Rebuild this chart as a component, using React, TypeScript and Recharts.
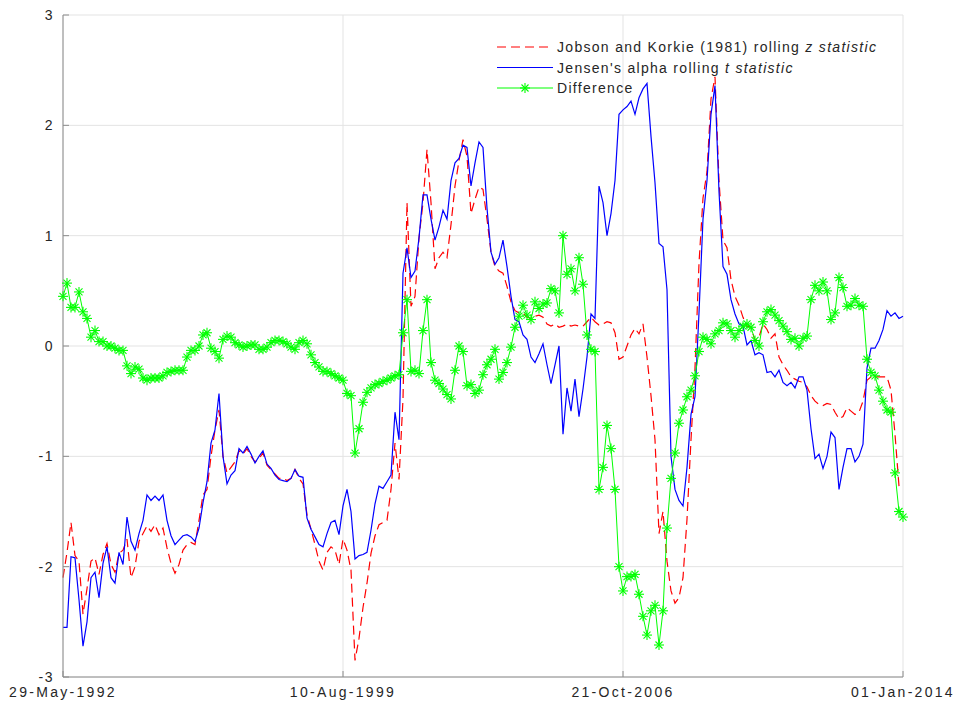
import React from 'react';
import { LineChart, Line, XAxis, YAxis, CartesianGrid, Legend } from 'recharts';

// x positions are sample indices (roughly monthly), ticks mark the four dates
const dateTicks = [0, 70, 140, 210];
const dateLabels = ['29-May-1992', '10-Aug-1999', '21-Oct-2006', '01-Jan-2014'];
const yTicks = [-3, -2, -1, 0, 1, 2, 3];

const jobsonKorkie = [
  -2.1, -1.87, -1.6, -1.9, -1.95, -2.43, -2.2, -1.95, -1.92, -2.07,
  -1.89, -1.79, -1.98, -2.05, -1.88, -1.85, -1.75, -2.1, -2.0, -1.77,
  -1.7, -1.63, -1.68, -1.62, -1.71, -1.65, -1.83, -1.97, -2.06, -1.98,
  -1.85, -1.8, -1.78, -1.8, -1.58, -1.35, -1.3, -1.0, -0.76, -0.58,
  -1.0, -1.15, -1.1, -1.05, -0.95, -0.98, -0.93, -1.0, -1.05, -1.02,
  -0.97, -1.08, -1.12, -1.16, -1.2, -1.2, -1.22, -1.2, -1.12, -1.2,
  -1.25, -1.53, -1.66, -1.8, -1.95, -2.03, -1.87, -1.82, -1.85, -1.98,
  -1.75, -1.85, -2.03, -2.85, -2.65, -2.37, -2.15, -1.88, -1.72, -1.62,
  -1.6, -1.58, -1.3, -0.88, -1.21, -0.48, 1.3, 0.36, 0.45, 0.98,
  1.3, 1.78, 1.3, 0.7, 0.8, 0.85, 0.8, 1.1, 1.45, 1.68,
  1.87, 1.72, 1.2, 1.33, 1.44, 1.42, 1.15, 0.85, 0.72, 0.68,
  0.66, 0.54, 0.4, 0.32, 0.3, 0.3, 0.26, 0.25, 0.27, 0.28,
  0.26, 0.2, 0.18, 0.2, 0.17, 0.18, 0.2, 0.18, 0.19, 0.18,
  0.18, 0.22, 0.26, 0.22, 0.19, 0.2, 0.22, 0.21, 0.12, -0.12,
  -0.1, 0.0, 0.1, 0.16, 0.11, 0.2, -0.1, -0.45, -0.85, -1.7,
  -1.5, -1.95, -2.22, -2.33, -2.28, -2.1, -1.57, -0.85, -0.2, 0.75,
  1.34, 1.58, 2.24, 2.44, 1.5, 0.96, 0.89, 0.6, 0.45, 0.37,
  0.26, 0.18, 0.17, 0.05, 0.08, 0.2, 0.15, 0.07, 0.11, -0.1,
  -0.17, -0.22, -0.28, -0.3, -0.32, -0.33, -0.37, -0.45, -0.5, -0.53,
  -0.54, -0.52, -0.53, -0.6, -0.66, -0.64, -0.56, -0.59, -0.62, -0.6,
  -0.5, -0.31, -0.28, -0.28, -0.28, -0.28, -0.28, -0.4, -0.8, -1.27, -1.27,
];

const jensenAlpha = [
  -2.55, -2.55, -1.91, -1.92, -2.3, -2.72, -2.5, -2.1, -2.05, -2.28,
  -1.97, -1.82, -2.1, -2.15, -1.87, -1.98, -1.55, -1.77, -1.85, -1.7,
  -1.58, -1.35, -1.4, -1.36, -1.4, -1.35, -1.58, -1.72, -1.8, -1.76,
  -1.72, -1.71, -1.73, -1.77, -1.65, -1.42, -1.23, -0.88, -0.76, -0.43,
  -1.0, -1.25, -1.17, -1.13, -0.93, -0.97, -0.91, -0.98, -1.06, -1.0,
  -0.95, -1.07, -1.11, -1.17, -1.21, -1.22, -1.23, -1.2, -1.12, -1.18,
  -1.19, -1.56, -1.66, -1.73, -1.8, -1.82, -1.7, -1.6, -1.58, -1.71,
  -1.45, -1.3, -1.5, -1.93, -1.9, -1.89, -1.87, -1.67, -1.43, -1.27,
  -1.29, -1.23, -1.17, -0.6, -0.85, 0.66, 0.89, 0.62, 0.68, 0.98,
  1.37, 1.37, 1.15, 0.96, 1.08, 1.23, 1.15, 1.5, 1.66, 1.7,
  1.82, 1.8, 1.45, 1.66, 1.85, 1.8, 1.25, 0.85, 0.74, 0.8,
  0.96, 0.72, 0.45, 0.24, 0.22, 0.1, 0.06, -0.1, -0.15, -0.07,
  0.02, -0.17, -0.34, -0.17, 0.0, -0.8, -0.38, -0.59, -0.3, -0.64,
  -0.39, -0.1, 0.29, 0.25, 1.45, 1.3, 1.0, 1.2, 1.5, 2.1,
  2.14, 2.17, 2.22, 2.1, 2.25, 2.33, 2.38, 1.9, 1.48, 0.93,
  0.9, 0.51, -1.0, -1.3, -1.4, -1.45, -1.1, -0.62, -0.46, 0.3,
  1.15, 1.5, 2.1, 2.36, 1.4, 0.72, 0.65, 0.42, 0.29, 0.2,
  0.18, 0.01, 0.05, -0.08, -0.06, -0.08, -0.24, -0.23, -0.28, -0.22,
  -0.33, -0.36, -0.33, -0.38, -0.28, -0.28, -0.4, -0.75, -1.02, -0.98,
  -1.11, -1.0, -0.78, -0.83, -1.3, -1.1, -0.93, -0.93, -1.05, -1.0,
  -0.89, -0.2, -0.02, -0.02, 0.05, 0.15, 0.32, 0.27, 0.3, 0.25, 0.27,
];

const difference = [
  0.45, 0.57, 0.35, 0.35, 0.49, 0.31, 0.25, 0.08, 0.14, 0.04,
  0.04, 0.0, 0.0, -0.02, -0.04, -0.04, -0.18, -0.25, -0.19, -0.21,
  -0.29, -0.31, -0.29, -0.29, -0.29, -0.27, -0.24, -0.23, -0.22, -0.22,
  -0.22, -0.1, -0.04, -0.04, 0.0, 0.1, 0.12, -0.02, -0.05, -0.11,
  0.06, 0.09, 0.08, 0.03, 0.01, -0.01, 0.0, 0.01, 0.01, -0.03,
  -0.03, -0.01, 0.03, 0.05, 0.05, 0.04, 0.02, -0.01, -0.03, 0.03,
  0.05, 0.02, -0.08, -0.15, -0.19, -0.23, -0.23, -0.25, -0.27, -0.29,
  -0.31, -0.43, -0.45, -0.97, -0.75, -0.51, -0.42, -0.38, -0.35, -0.34,
  -0.32, -0.31, -0.29, -0.27, -0.26, 0.12, 0.42, -0.23, -0.22, -0.25,
  0.14, 0.42, -0.15, -0.31, -0.34, -0.39, -0.44, -0.48, -0.22, 0.0,
  -0.05, -0.36, -0.35, -0.43, -0.4, -0.26, -0.17, -0.12, -0.03, -0.3,
  -0.24, -0.15, -0.01, 0.17, 0.27, 0.37, 0.28, 0.24, 0.4, 0.34,
  0.38, 0.39, 0.52, 0.5, 0.3, 1.0, 0.65, 0.7, 0.5, 0.8,
  0.56, 0.1, -0.03, -0.05, -1.3, -1.1, -0.72, -0.93, -1.3, -2.0,
  -2.22, -2.09, -2.09, -2.07, -2.25, -2.45, -2.62, -2.4, -2.35, -2.71,
  -2.4, -1.65, -1.2, -0.97, -0.7, -0.58, -0.46, -0.4, -0.27, -0.05,
  0.08, 0.06, 0.02, 0.11, 0.14, 0.21, 0.2, 0.14, 0.08, 0.14,
  0.18, 0.2, 0.17, 0.05, 0.0, 0.22, 0.31, 0.33, 0.28, 0.23,
  0.18, 0.13, 0.06, 0.07, 0.0, 0.07, 0.09, 0.42, 0.55, 0.5,
  0.58, 0.5, 0.24, 0.3, 0.62, 0.53, 0.36, 0.37, 0.43, 0.37,
  0.36, -0.12, -0.24, -0.27, -0.4, -0.5, -0.58, -0.6, -1.15, -1.5, -1.55,
];

const data = jobsonKorkie.map((v, i) => ({
  t: i,
  jk: v,
  ja: jensenAlpha[i],
  diff: difference[i],
}));

const FONT = '"Liberation Sans", Arial, sans-serif';
const AXIS = '#8c8c8c';
const TEXT = '#262626';
const TICK = 6;

const BottomTick = (props: any) => {
  const { x, y, payload } = props;
  const label = dateLabels[dateTicks.indexOf(payload.value)];
  return (
    <g>
      <line x1={x} y1={y} x2={x} y2={y - TICK} stroke={AXIS} />
      <text x={x} y={y + 20} textAnchor="middle" fontFamily={FONT} fontSize={14}
        letterSpacing={2.3} fill={TEXT}>{label}</text>
    </g>
  );
};

const TopTick = (props: any) => {
  const { x, y } = props;
  return <line x1={x} y1={y} x2={x} y2={y + TICK} stroke={AXIS} />;
};

const LeftTick = (props: any) => {
  const { x, y, payload } = props;
  return (
    <g>
      <line x1={x} y1={y} x2={x + TICK} y2={y} stroke={AXIS} />
      <text x={x - 9} y={y + 5} textAnchor="end" fontFamily={FONT} fontSize={14}
        letterSpacing={1.5} fill={TEXT}>{payload.value}</text>
    </g>
  );
};

const RightTick = (props: any) => {
  const { x, y } = props;
  return <line x1={x} y1={y} x2={x - TICK} y2={y} stroke={AXIS} />;
};

const StarDot = (props: any) => {
  const { cx, cy } = props;
  if (cx == null || cy == null) return null;
  const r = 5;
  const d = 3.5;
  return (
    <g stroke="#00ff00" strokeWidth={1.1}>
      <line x1={cx - r} y1={cy} x2={cx + r} y2={cy} />
      <line x1={cx} y1={cy - r} x2={cx} y2={cy + r} />
      <line x1={cx - d} y1={cy - d} x2={cx + d} y2={cy + d} />
      <line x1={cx - d} y1={cy + d} x2={cx + d} y2={cy - d} />
    </g>
  );
};

const legendRows = [
  { color: '#ff0000', dash: '9 5', text: 'Jobson and Korkie (1981) rolling ', em: 'z statistic', star: false },
  { color: '#0000ff', dash: undefined, text: "Jensen's alpha rolling ", em: 't statistic', star: false },
  { color: '#00ff00', dash: undefined, text: 'Difference', em: '', star: true },
];

const LegendBox = () => (
  <svg width={420} height={66}>
    {legendRows.map((row, i) => {
      const y = 11 + i * 20.5;
      return (
        <g key={row.text}>
          <line x1={7} y1={y} x2={63} y2={y} stroke={row.color} strokeWidth={1.2}
            strokeDasharray={row.dash} />
          {row.star && <StarDot cx={35} cy={y} />}
          <text x={67} y={y + 5} fontFamily={FONT} fontSize={14} letterSpacing={1.3} fill={TEXT}>
            {row.text}
            {row.em && <tspan fontStyle="italic">{row.em}</tspan>}
          </text>
        </g>
      );
    })}
  </svg>
);

export default function App() {
  return (
    <div style={{ position: 'absolute', left: 0, top: 0, width: 958, height: 711, background: '#fff' }}>
      <LineChart width={958} height={711} data={data}
        margin={{ top: 15, right: 55, bottom: 0, left: 0 }}>
        <CartesianGrid stroke="#e3e3e3" />
        <XAxis dataKey="t" type="number" domain={[0, 210]} ticks={dateTicks} interval={0}
          tickSize={0} tickMargin={0} tick={<BottomTick />} tickLine={false}
          axisLine={{ stroke: AXIS }} height={34} />
        <XAxis xAxisId="top" orientation="top" dataKey="t" type="number" domain={[0, 210]}
          ticks={dateTicks} interval={0} tickSize={0} tickMargin={0} tick={<TopTick />}
          tickLine={false} axisLine={{ stroke: AXIS }} height={0} />
        <YAxis type="number" domain={[-3, 3]} ticks={yTicks} interval={0} width={63}
          tickSize={0} tickMargin={0} tick={<LeftTick />} tickLine={false}
          axisLine={{ stroke: AXIS }} />
        <YAxis yAxisId="right" orientation="right" type="number" domain={[-3, 3]} ticks={yTicks}
          interval={0} width={0} tickSize={0} tickMargin={0} tick={<RightTick />}
          tickLine={false} axisLine={{ stroke: AXIS }} />
        <Legend layout="horizontal" verticalAlign="middle" align="center"
          wrapperStyle={{ left: 490, top: 36, width: 420 }} content={() => <LegendBox />} />
        <Line dataKey="jk" type="linear" stroke="#ff0000" strokeWidth={1.2} strokeDasharray="9 5"
          dot={false} activeDot={false} isAnimationActive={false} />
        <Line dataKey="ja" type="linear" stroke="#0000ff" strokeWidth={1.2}
          dot={false} activeDot={false} isAnimationActive={false} />
        <Line dataKey="diff" type="linear" stroke="#00ff00" strokeWidth={1}
          dot={(p: any) => <StarDot key={`s-${p.index}`} cx={p.cx} cy={p.cy} />}
          activeDot={false} isAnimationActive={false} />
      </LineChart>
    </div>
  );
}
